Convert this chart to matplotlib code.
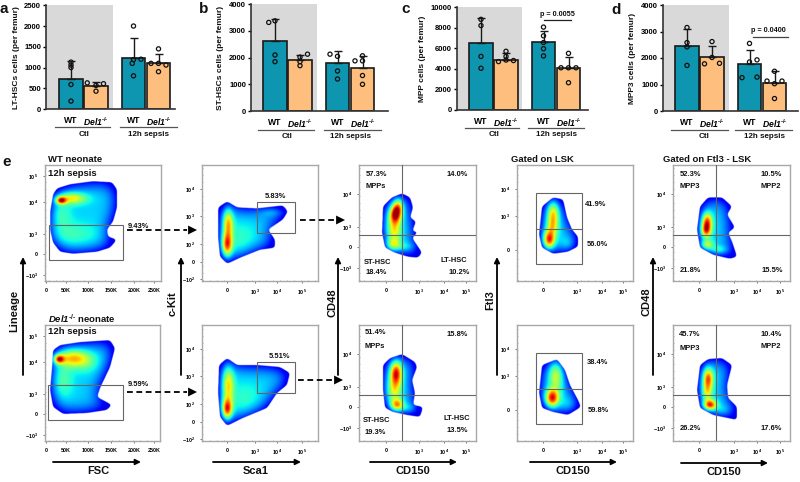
"""
Bone marrow HSC / MPP counts (a-d) and flow cytometry gating panels (e)
"""

import numpy as np
import matplotlib
matplotlib.use("Agg")
import matplotlib.pyplot as plt
from matplotlib.path import Path as MplPath
from matplotlib.patches import Rectangle
from matplotlib.ticker import MultipleLocator

plt.rcParams["font.family"] = ["Liberation Sans", "DejaVu Sans"]
plt.rcParams["mathtext.fontset"] = "custom"
plt.rcParams["mathtext.rm"] = "Liberation Sans:bold"
plt.rcParams["mathtext.it"] = "Liberation Sans:italic"
plt.rcParams["mathtext.bf"] = "Liberation Sans:bold"
plt.rcParams["mathtext.bfit"] = "Liberation Sans:italic:bold"

W, H = 800, 482

# ─────────────────────────────────────────────
# Bar chart data (WT ctl, Del1 ctl, WT sepsis, Del1 sepsis)
# ─────────────────────────────────────────────
BAR_X = [0, 1, 2.5, 3.5]
KO = r"$\bfit{Del1}^{\text{-/-}}$"
GROUP_LABELS = ["WT", KO, "WT", KO]

LT_MEAN = [720, 550, 1240, 1110]
LT_TOP = [1150, 650, 1700, 1330]
LT_POINTS = [[190, 590, 1000, 1060, 1130], [630, 610, 570, 430],
             [2000, 1190, 1200, 1100, 800], [1450, 1100, 1100, 1060, 900]]
LT_JITTER = [[0, 0, 0, 0, 0], [-.35, .3, 0, 0], [0, 0, .3, -.05, 0], [0, -.3, 0, .3, 0]]

ST_MEAN = [2640, 1900, 1800, 1620]
ST_TOP = [3450, 2100, 2250, 2080]
ST_POINTS = [[3320, 3380, 2100, 1850], [2130, 2020, 1850, 1700],
             [2130, 2050, 1500, 1200], [1880, 2070, 1880, 1330, 1000]]
ST_JITTER = [[-.25, 0, 0, 0], [.3, 0, 0, 0], [-.3, 0, 0, 0], [-.3, 0, 0, 0, 0]]

MPP_MEAN = [6550, 4850, 6600, 4080]
MPP_TOP = [8900, 5500, 7700, 5100]
MPP_POINTS = [[8800, 8200, 5200, 4050], [5700, 5200, 4700, 4850, 4800],
              [8050, 7200, 6550, 5950, 5250], [5500, 4100, 4100, 4100, 2650]]
MPP_JITTER = [[0, 0, 0, 0], [0, 0, -.3, 0, .3], [0, 0, 0, 0, 0], [0, -.3, 0, .3, 0]]

MPP3_MEAN = [2450, 2050, 1770, 1050]
MPP3_TOP = [3100, 2450, 2310, 1500]
MPP3_POINTS = [[3150, 2580, 2420, 1720], [2620, 2020, 1800, 1780],
               [2550, 1930, 1850, 1280, 1260], [1500, 1130, 1130, 1030, 470]]
MPP3_JITTER = [[0, 0, 0, 0], [0, 0, .3, -.3], [0, .3, 0, .3, -.3], [0, -.3, .3, 0, 0]]

# ─────────────────────────────────────────────
# Flow plot data: density outline and hot spots (x, y, sx, sy, weight), in px
# ─────────────────────────────────────────────
FSC_WT_OUT = [(53,195),(57,189),(70,185),(93,182),(112,183),(117,190),(117,208),(113,222),(107,230),
              (108,237),(117,240),(110,248),(97,252),(73,254),(60,252),(53,243),(50,230),(50,213)]
FSC_WT_HOT = [(61,201,3.5,2.5,.55),(72,199,10,4,.34),(70,235,20,9,.1),(60,215,7,10,.12)]
FSC_KO_OUT = [(53,350),(60,345),(80,342),(110,340),(115,348),(110,367),(100,388),(97,397),(112,405),
              (107,410),(87,413),(63,414),(53,407),(50,390),(52,367)]
FSC_KO_HOT = [(59,359,3.5,3,.55),(72,358,11,6,.36),(85,362,9,7,.12),(62,380,7,12,.14)]

SCA_WT_OUT = [(218,208),(227,202),(237,208),(257,209),(283,206),(288,212),(283,220),(268,230),(275,240),
              (275,248),(260,250),(240,258),(227,264),(220,257),(218,237)]
SCA_WT_HOT = [(227,245,3.5,8,.55),(228,224,3.5,10,.42),(240,240,12,12,.08),(272,213,9,3,.08)]
SCA_KO_OUT = [(219,365),(227,358),(237,365),(257,365),(280,367),(290,373),(287,385),(277,393),(267,408),
              (243,418),(227,426),(220,417),(218,393)]
SCA_KO_HOT = [(227,409,3.5,7,.58),(228,385,4,13,.38),(245,400,12,12,.08)]

CD_WT_OUT = [(383,207),(392,198),(402,194),(410,198),(413,208),(410,218),(416,222),(412,232),(419,232),
             (412,238),(422,253),(418,258),(408,257),(395,253),(385,248),(382,233)]
CD_WT_HOT = [(395,215,4,6,.52),(398,208,3.5,6,.4),(394,230,5,10,.34),(393,245,5,4,.28),(405,247,6,3,.1)]
CD_KO_OUT = [(383,365),(390,358),(402,354),(415,362),(417,367),(412,380),(415,393),(413,405),(423,407),
             (420,417),(407,415),(393,412),(385,408),(383,390)]
CD_KO_HOT = [(396,373,4,8,.58),(394,390,5,9,.3),(397,405,4.5,4,.46),(408,408,5,3,.1)]

FLT_WT_OUT = [(542,207),(553,198),(563,200),(567,218),(572,230),(578,237),(578,247),(568,252),(553,254),
              (542,248),(539,235)]
FLT_WT_HOT = [(549,240,4,6,.6),(553,215,4,9,.4),(552,228,4,6,.22),(568,244,5,5,.08)]
FLT_KO_OUT = [(542,365),(557,359),(565,370),(570,385),(578,400),(581,407),(568,415),(553,412),(542,408),
              (539,393)]
FLT_KO_HOT = [(552,398,4.5,6,.6),(556,375,5,11,.3),(568,404,6,5,.06)]

MPP_WT_OUT = [(700,207),(708,198),(722,198),(732,207),(727,215),(735,228),(728,233),(732,242),(737,257),
              (730,259),(713,255),(700,248),(697,230)]
MPP_WT_HOT = [(707,222,3.5,6,.52),(706,231,3.5,5,.5),(707,245,4.5,3.5,.34),(718,250,6,3,.16)]
MPP_KO_OUT = [(700,365),(708,359),(722,358),(732,365),(727,385),(728,398),(737,407),(737,420),(713,415),
              (700,408),(697,390)]
MPP_KO_HOT = [(708,378,3.5,7,.5),(707,392,3.5,7,.32),(710,405,4.5,3.5,.6),(722,410,6,4,.08)]

FSC_X_TICKS = [46, 66, 88, 111, 134, 154]
FSC_X_LABELS = ["0", "50K", "100K", "150K", "200K", "250K"]
FSC_Y_TICKS = [176, 202, 234, 254, 275]
FSC_Y_LABELS = [r"$\mathbf{10^{5}}$", r"$\mathbf{10^{4}}$", r"$\mathbf{10^{3}}$", "0", r"$\mathbf{-10^{3}}$"]
SCA_X_TICKS = [227, 255, 277, 302]
SCA_Y_TICKS = [189, 216, 244, 262, 279]
SCA_Y_LABELS = [r"$\mathbf{10^{4}}$", r"$\mathbf{10^{3}}$", r"$\mathbf{10^{2}}$", "0", r"$\mathbf{-10^{2}}$"]
CD_X_TICKS = [386, 419, 444, 466]
CD_Y_TICKS = [194, 227, 247, 268]
CD_Y_LABELS = [r"$\mathbf{10^{4}}$", r"$\mathbf{10^{3}}$", "0", r"$\mathbf{-10^{3}}$"]
FLT_X_TICKS = [543, 577, 602, 623]
FLT_Y_TICKS = [189, 216, 250]
FLT_Y_LABELS = [r"$\mathbf{10^{4}}$", r"$\mathbf{10^{3}}$", "0"]
MPP_X_TICKS = [699, 734, 757, 780]
LOG_X_LABELS = ["0", r"$\mathbf{10^{3}}$", r"$\mathbf{10^{4}}$", r"$\mathbf{10^{5}}$"]

TEAL = "#0E95B0"
ORANGE = "#FDBE7E"
GREY_BG = "#D9D9D9"
FRAME = "#A8A8A8"
GATE = "#666666"

fig = plt.figure(figsize=(W / 100, H / 100), dpi=100, facecolor="white")


def px_axes(x0, y0, x1, y1, **kw):
    return fig.add_axes([x0 / W, 1 - y1 / H, (x1 - x0) / W, (y1 - y0) / H], **kw)


overlay = px_axes(0, 0, W, H, zorder=10)
overlay.set_xlim(0, W)
overlay.set_ylim(H, 0)
overlay.axis("off")
overlay.patch.set_alpha(0)


def label(x, y, s, size=5.5, weight="bold", ha="center", **kw):
    overlay.text(x, y, s, fontsize=size, fontweight=weight, ha=ha, va="center", color="#111111", **kw)


# ─────────────────────────────────────────────
# a-d  bar charts
# ─────────────────────────────────────────────
def bar_panel(axis_x, right, y0, ytop, first_bar, bg_end, ymax, step, mean, top, points, jitter, ylab, ylab_x):
    unit = 25.0
    ax = px_axes(axis_x, ytop, right, y0)
    ax.set_xlim((axis_x - first_bar) / unit, (right - first_bar) / unit)
    ax.set_ylim(0, ymax)
    ax.patch.set_alpha(0)
    ax.axvspan(ax.get_xlim()[0], (bg_end - first_bar) / unit, color=GREY_BG, lw=0, zorder=0)
    ax.bar(BAR_X, mean, width=0.95, color=[TEAL, ORANGE, TEAL, ORANGE], edgecolor="#1a1a1a", linewidth=1.2, zorder=2)
    for i, x in enumerate(BAR_X):
        ax.errorbar(x, mean[i], yerr=[[0], [top[i] - mean[i]]], color="#1a1a1a", lw=1.0, capsize=3, capthick=1.0, zorder=3)
        ax.scatter(x + np.array(jitter[i]), points[i], s=9, facecolors="none", edgecolors="#111111", linewidths=0.9, zorder=4, clip_on=False)
    for side in ["top", "right"]:
        ax.spines[side].set_visible(False)
    for side in ["left", "bottom"]:
        ax.spines[side].set_linewidth(1.2)
        ax.spines[side].set_color("#333333")
    ax.yaxis.set_major_locator(MultipleLocator(step))
    ax.tick_params(axis="y", labelsize=5.5, length=2.5, width=1, pad=1)
    for t in ax.get_yticklabels():
        t.set_fontweight("bold")
    ax.set_xticks(BAR_X)
    ax.set_xticklabels(GROUP_LABELS, fontsize=6.2, fontweight="bold")
    ax.tick_params(axis="x", length=0, pad=5)
    label(ylab_x, (y0 + ytop) / 2, ylab, size=6, rotation=90)


bar_panel(46, 175, 109, 5.3, 71, 113, 2500, 500, LT_MEAN, LT_TOP, LT_POINTS, LT_JITTER, "LT-HSCs cells (per femur)", 17)
bar_panel(251, 388, 111, 4.3, 275, 317, 4000, 1000, ST_MEAN, ST_TOP, ST_POINTS, ST_JITTER, "ST-HSCs cells (per femur)", 220)
bar_panel(457, 588, 110, 7, 481, 522, 10000, 2000, MPP_MEAN, MPP_TOP, MPP_POINTS, MPP_JITTER, "MPP cells (per femur)", 423)
bar_panel(663, 798, 111, 5, 687, 729, 4000, 1000, MPP3_MEAN, MPP3_TOP, MPP3_POINTS, MPP3_JITTER, "MPP3 cells (per femur)", 633)

for x0, x1, x2, x3, yl, xc, xs, yt in [(55, 110, 120, 177, 127, 84, 149, 134),
                                       (258, 314, 324, 381, 130, 287, 350, 137),
                                       (465, 519, 528, 584, 128, 494, 557, 135),
                                       (671, 728, 735, 792, 130, 704, 765, 137)]:
    overlay.plot([x0, x1], [yl, yl], color="#555555", lw=0.9)
    overlay.plot([x2, x3], [yl, yl], color="#555555", lw=0.9)
    label(xc, yt, "Ctl", size=5.8)
    label(xs, yt, "12h sepsis", size=5.8)

overlay.plot([544, 571], [20, 20], color="#222222", lw=0.9)
label(557, 14, "p = 0.0055", size=5.2)
overlay.plot([753, 788], [37, 37], color="#444444", lw=0.9)
label(768, 31, "p = 0.0400", size=5.2)

for x, y, s in [(4, 9, "a"), (204, 9, "b"), (406, 9, "c"), (616, 10, "d"), (7, 162, "e")]:
    label(x, y, s, size=11)


# ─────────────────────────────────────────────
# e  flow plots
# ─────────────────────────────────────────────
def blur(img, sigma):
    r = int(3 * sigma)
    k = np.exp(-0.5 * (np.arange(-r, r + 1) / sigma) ** 2)
    k /= k.sum()
    out = np.apply_along_axis(lambda m: np.convolve(m, k, mode="same"), 0, img)
    return np.apply_along_axis(lambda m: np.convolve(m, k, mode="same"), 1, out)


def flow_panel(x0, y0, x1, y1, outline, hot, xticks, xlabels, yticks, ylabels):
    ax = px_axes(x0, y0, x1, y1)
    ax.set_xlim(x0, x1)
    ax.set_ylim(y1, y0)
    gx, gy = np.meshgrid(np.linspace(x0, x1, 350), np.linspace(y0, y1, 350))
    inside = MplPath(outline).contains_points(np.c_[gx.ravel(), gy.ravel()]).reshape(gx.shape)
    soft = blur(inside.astype(float), 5)
    depth = blur(inside.astype(float), 24)
    depth = np.clip((depth / depth.max() - 0.4) / 0.6, 0, 1)
    field = 0.09 + 0.24 * depth
    for hx, hy, sx, sy, w in hot:
        field = field + w * np.exp(-0.5 * ((gx - hx) / sx) ** 2 - 0.5 * ((gy - hy) / sy) ** 2)
    rgba = plt.cm.jet(np.clip(field, 0, 0.98))
    rgba[..., 3] = np.clip((soft - 0.45) / 0.08, 0, 1)
    ax.imshow(rgba, extent=(x0, x1, y1, y0), aspect="auto", interpolation="bilinear", zorder=1)
    for s in ax.spines.values():
        s.set_color(FRAME)
        s.set_linewidth(1.0)
    ax.set_xticks(xticks)
    ax.set_xticklabels(xlabels, fontsize=3.9, fontweight="bold")
    ax.set_yticks(yticks)
    ax.set_yticklabels(ylabels, fontsize=3.9, fontweight="bold")
    ax.tick_params(length=1.5, width=0.5, color="#444444", pad=3.5)
    ax.xaxis.set_minor_locator(MultipleLocator(7))
    ax.yaxis.set_minor_locator(MultipleLocator(7))
    ax.tick_params(which="minor", direction="in", length=1, width=0.4, color="#777777")
    return ax


def rect(ax, x0, y0, x1, y1):
    ax.add_patch(Rectangle((x0, y0), x1 - x0, y1 - y0, fill=False, edgecolor=GATE, lw=0.8, zorder=3))


def shift(ticks, dy=160):
    return [t + dy for t in ticks]


# lineage vs FSC
a1 = flow_panel(45, 165, 161, 281, FSC_WT_OUT, FSC_WT_HOT, FSC_X_TICKS, FSC_X_LABELS, FSC_Y_TICKS, FSC_Y_LABELS)
a2 = flow_panel(45, 325, 160, 441, FSC_KO_OUT, FSC_KO_HOT, FSC_X_TICKS, FSC_X_LABELS, shift(FSC_Y_TICKS), FSC_Y_LABELS)
rect(a1, 49, 225, 123, 260)
rect(a2, 48, 385, 123, 420)

# c-Kit vs Sca1
b1 = flow_panel(202, 165, 318, 281, SCA_WT_OUT, SCA_WT_HOT, SCA_X_TICKS, LOG_X_LABELS, SCA_Y_TICKS, SCA_Y_LABELS)
b2 = flow_panel(202, 325, 318, 441, SCA_KO_OUT, SCA_KO_HOT, SCA_X_TICKS, LOG_X_LABELS, shift(SCA_Y_TICKS), SCA_Y_LABELS)
rect(b1, 257, 202, 295, 233)
rect(b2, 257, 362, 295, 393)

# CD48 vs CD150, LSK
c1 = flow_panel(359, 165, 476, 281, CD_WT_OUT, CD_WT_HOT, CD_X_TICKS, LOG_X_LABELS, CD_Y_TICKS, CD_Y_LABELS)
c2 = flow_panel(359, 325, 476, 441, CD_KO_OUT, CD_KO_HOT, CD_X_TICKS, LOG_X_LABELS, shift(CD_Y_TICKS), CD_Y_LABELS)

# Ftl3 vs CD150
d1 = flow_panel(517, 165, 633, 281, FLT_WT_OUT, FLT_WT_HOT, FLT_X_TICKS, LOG_X_LABELS, FLT_Y_TICKS, FLT_Y_LABELS)
d2 = flow_panel(517, 325, 633, 441, FLT_KO_OUT, FLT_KO_HOT, FLT_X_TICKS, LOG_X_LABELS, shift(FLT_Y_TICKS), FLT_Y_LABELS)
rect(d1, 536, 193, 582, 264)
rect(d2, 536, 353, 582, 424)
d1.plot([536, 582], [229, 229], color=GATE, lw=0.8, zorder=3)
d2.plot([536, 582], [389, 389], color=GATE, lw=0.8, zorder=3)

# CD48 vs CD150, Ftl3- LSK
e1 = flow_panel(673, 165, 790, 281, MPP_WT_OUT, MPP_WT_HOT, MPP_X_TICKS, LOG_X_LABELS, CD_Y_TICKS, CD_Y_LABELS)
e2 = flow_panel(673, 325, 790, 441, MPP_KO_OUT, MPP_KO_HOT, MPP_X_TICKS, LOG_X_LABELS, shift(CD_Y_TICKS), CD_Y_LABELS)

for ax, vx, hy in [(c1, 402, 235), (c2, 402, 395), (e1, 716, 235), (e2, 716, 395)]:
    ax.axvline(vx, color=GATE, lw=0.8, zorder=3)
    ax.axhline(hy, color=GATE, lw=0.8, zorder=3)

# panel text
for x, y, s in [(138, 227, "9.43%"), (138, 385, "9.59%"), (275, 197, "5.83%"), (279, 356, "5.51%"),
                (376, 174, "57.3%"), (376, 187, "MPPs"), (457, 174, "14.0%"), (378, 262, "ST-HSC"),
                (376, 272, "18.4%"), (454, 260, "LT-HSC"), (459, 272, "10.2%"),
                (375, 333, "51.4%"), (375, 346, "MPPs"), (457, 334, "15.8%"), (377, 421, "ST-HSC"),
                (375, 432, "19.3%"), (457, 419, "LT-HSC"), (457, 431, "13.5%"),
                (596, 205, "41.9%"), (597, 245, "56.0%"), (597, 363, "38.4%"), (598, 411, "59.8%"),
                (690, 174, "52.3%"), (690, 187, "MPP3"), (771, 175, "10.5%"), (771, 186, "MPP2"),
                (690, 270, "21.8%"), (772, 271, "15.5%"),
                (690, 334, "45.7%"), (690, 348, "MPP3"), (771, 334, "10.4%"), (771, 347, "MPP2"),
                (690, 429, "26.2%"), (771, 429, "17.6%")]:
    label(x, y, s, size=5.4)

label(48, 160, "WT neonate", size=6.8, ha="left")
label(48, 173, "12h sepsis", size=6.8, ha="left")
label(48, 319, KO + " neonate", size=6.8, ha="left")
label(48, 332, "12h sepsis", size=6.8, ha="left")
label(511, 159, "Gated on LSK", size=6.8, ha="left")
label(663, 160, "Gated on Ftl3 - LSK", size=6.8, ha="left")


# axis arrows
def arrow(x0, y0, x1, y1, scale=8, lw=1.3):
    overlay.annotate("", xy=(x1, y1), xytext=(x0, y0),
                     arrowprops=dict(arrowstyle="-|>", color="black", lw=lw, mutation_scale=scale, shrinkA=0, shrinkB=0))


for x, lab, lab_x, lab_y in [(23, "Lineage", 14, 311), (181, "c-Kit", 173, 304), (338, "CD48", 332, 303),
                             (497, "Ftl3", 490, 300), (653, "CD48", 646, 302)]:
    arrow(x, 375, x, 257)
    label(lab_x, lab_y, lab, size=8, rotation=90)

for x0, x1, xc, yl, lab in [(53, 141, 98, 462, "FSC"), (213, 301, 256, 462, "Sca1"), (370, 457, 413, 462, "CD150"),
                            (530, 617, 573, 462, "CD150"), (681, 768, 724, 463, "CD150")]:
    arrow(x0, yl, x1, yl)
    label(xc, yl + 9, lab, size=8)


# dashed gate arrows
def dash_arrow(x0, x1, y):
    overlay.plot([x0, x1 - 10], [y, y], color="black", lw=1.3, ls=(0, (3.2, 2)))
    overlay.annotate("", xy=(x1, y), xytext=(x1 - 13, y),
                     arrowprops=dict(arrowstyle="-|>", color="black", lw=0, mutation_scale=16, shrinkA=0, shrinkB=0))


dash_arrow(127, 197, 230)
dash_arrow(127, 197, 392)
dash_arrow(300, 345, 220)
dash_arrow(298, 343, 380)

fig.savefig("out.png", dpi=100)
